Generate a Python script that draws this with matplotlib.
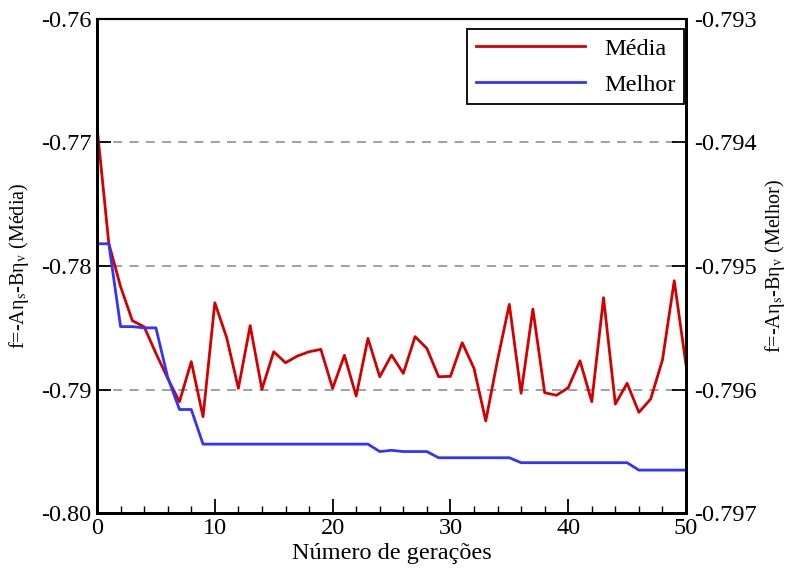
import matplotlib
matplotlib.use("Agg")
import matplotlib.pyplot as plt
from matplotlib.ticker import MultipleLocator

plt.rcParams['font.family'] = ['Liberation Serif', 'DejaVu Serif']
plt.rcParams['mathtext.fontset'] = 'stix'

generations = list(range(51))

media = [-0.76874, -0.77817, -0.78167, -0.78442, -0.78491, -0.78706, -0.78908,
         -0.79097, -0.78773, -0.79218, -0.78297, -0.78577, -0.78989, -0.78482,
         -0.78997, -0.78693, -0.78782, -0.78728, -0.78693, -0.78674, -0.78989,
         -0.78722, -0.79051, -0.78585, -0.78895, -0.78720, -0.78868, -0.78571,
         -0.78666, -0.78895, -0.78892, -0.78620, -0.78827, -0.79253, -0.78760,
         -0.78310, -0.79029, -0.78348, -0.79024, -0.79045, -0.78984, -0.78766,
         -0.79097, -0.78256, -0.79116, -0.78948, -0.79183, -0.79075, -0.78760,
         -0.78119, -0.78800]

melhor = [-0.79482, -0.79482, -0.79549, -0.79549, -0.79550, -0.79550, -0.79590,
          -0.79616, -0.79616, -0.79644, -0.79644, -0.79644, -0.79644, -0.79644,
          -0.79644, -0.79644, -0.79644, -0.79644, -0.79644, -0.79644, -0.79644,
          -0.79644, -0.79644, -0.79644, -0.79650, -0.79649, -0.79650, -0.79650,
          -0.79650, -0.79655, -0.79655, -0.79655, -0.79655, -0.79655, -0.79655,
          -0.79655, -0.79659, -0.79659, -0.79659, -0.79659, -0.79659, -0.79659,
          -0.79659, -0.79659, -0.79659, -0.79659, -0.79665, -0.79665, -0.79665,
          -0.79665, -0.79665]

left_ticks = [-0.80, -0.79, -0.78, -0.77, -0.76]
right_ticks = [-0.797, -0.796, -0.795, -0.794, -0.793]

fig = plt.figure(figsize=(7.94, 5.73), dpi=100)
ax = fig.add_axes([0.1222, 0.104, 0.7418, 0.8635])
ax2 = ax.twinx()

FS = 17.5      # tick labels, x label, legend
FS_Y = 14.5    # rotated axis titles

for y in [-0.79, -0.78, -0.77]:
    ax.axhline(y, color='#999999', lw=1.3, ls=(0, (5, 4)), zorder=0)

l1, = ax.plot(generations, media, color='#d40000', lw=2.0, label='Média')
l2, = ax2.plot(generations, melhor, color='#3333ff', lw=2.0, label='Melhor')

ax.set_xlim(0, 50)
ax.set_ylim(-0.80, -0.76)
ax2.set_ylim(-0.797, -0.793)
ax.set_yticks(left_ticks)
ax.set_yticklabels([f"{v:.2f}" for v in left_ticks])
ax2.set_yticks(right_ticks)
ax2.set_yticklabels([f"{v:.3f}" for v in right_ticks])
ax.xaxis.set_major_locator(MultipleLocator(10))
ax.xaxis.set_minor_locator(MultipleLocator(2))

ax.tick_params(axis='x', which='major', direction='in', length=10, width=1.3,
               labelsize=FS, top=False, pad=3)
ax.tick_params(axis='x', which='minor', direction='in', length=5, width=1.0,
               top=False)
ax.tick_params(axis='y', which='major', direction='in', length=10, width=1.3,
               labelsize=FS, right=False, pad=4)
ax2.tick_params(axis='y', which='major', direction='in', length=10, width=1.3,
                labelsize=FS, pad=6)

for a in (ax, ax2):
    a.spines['left'].set_linewidth(2.0)
    a.spines['bottom'].set_linewidth(2.0)
    a.spines['right'].set_linewidth(2.0)
    a.spines['top'].set_linewidth(1.5)

eta = 'η'
ax.set_xlabel('Número de gerações', fontsize=FS, labelpad=3)
ax.set_ylabel(f'f=-A{eta}' + r'$_\mathrm{s}$' + f'-B{eta}' + r'$_\mathrm{v}$'
              + ' (Média)', fontsize=FS_Y, labelpad=7)
ax2.set_ylabel(f'f=-A{eta}' + r'$_\mathrm{s}$' + f'-B{eta}' + r'$_\mathrm{v}$'
               + ' (Melhor)', fontsize=FS_Y, labelpad=4)

leg = ax2.legend(handles=[l1, l2], loc='upper right', fontsize=FS,
                 handlelength=4.5, handletextpad=0.78, borderpad=0.35,
                 labelspacing=0.58, fancybox=False, framealpha=1,
                 edgecolor='black', borderaxespad=0,
                 bbox_to_anchor=(0.9966, 0.979))
leg.get_frame().set_linewidth(1.3)

fig.savefig('out.png', dpi=100)
